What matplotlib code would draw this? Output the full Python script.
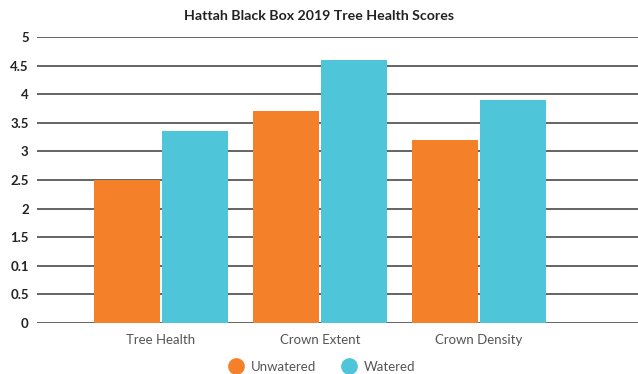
import matplotlib
matplotlib.use("Agg")
import matplotlib.pyplot as plt
from matplotlib.lines import Line2D
import numpy as np

categories = ["Tree Health", "Crown Extent", "Crown Density"]
unwatered = [2.5, 3.7, 3.2]
watered = [3.35, 4.6, 3.9]
y_ticks = [0, 0.5, 1, 1.5, 2, 2.5, 3, 3.5, 4, 4.5, 5]
y_tick_labels = ["0", "0.5", "0.1", "1.5", "2", "2.5", "3", "3.5", "4", "4.5", "5"]
series_names = ["Unwatered", "Watered"]

ORANGE = "#F4812A"
CYAN = "#4EC5D9"
FONT = ["Lato", "DejaVu Sans"]

plt.rcParams["font.family"] = FONT

fig = plt.figure(figsize=(6.38, 3.74), dpi=100)
ax = fig.add_axes([0.058, 0.1364, 0.942, 0.7647])

x = np.arange(len(categories))
width = 0.415
offset = 0.214
ax.bar(x - offset, unwatered, width, color=ORANGE, zorder=3)
ax.bar(x + offset, watered, width, color=CYAN, zorder=3)

ax.set_ylim(0, 5)
ax.set_xlim(-0.78, 3.0)
ax.set_yticks(y_ticks)
ax.set_yticklabels(y_tick_labels, fontsize=9.5, fontweight="bold", color="#222222")
ax.set_xticks(x)
ax.set_xticklabels(categories, fontsize=9.5, color="#555555")
ax.tick_params(axis="y", length=0, pad=6)
ax.tick_params(axis="x", length=0, pad=8)
ax.grid(axis="y", color="#3a3a3a", linewidth=1.1, zorder=0)
for s in ax.spines.values():
    s.set_visible(False)

fig.text(0.5, 0.957, "Hattah Black Box 2019 Tree Health Scores", ha="center", va="center",
         fontsize=10.2, fontweight="bold", color="#222222")

handles = [Line2D([], [], marker="o", linestyle="", markersize=11, color=c)
           for c in (ORANGE, CYAN)]
fig.legend(handles, series_names, loc="center", bbox_to_anchor=(0.5, 0.02),
           ncol=2, frameon=False, fontsize=9.5, handletextpad=0.15,
           columnspacing=1.5, labelcolor="#555555")

fig.savefig("out.png", dpi=100, facecolor="white")
